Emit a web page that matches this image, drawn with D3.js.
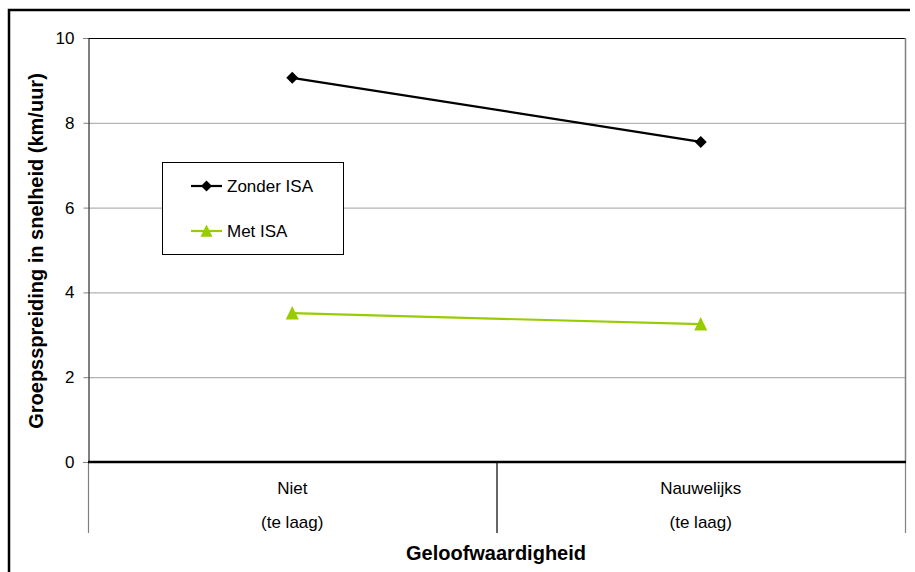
<!DOCTYPE html>
<meta charset="utf-8">
<style>
body { margin: 0; background: #fff; }
svg { font-family: "Liberation Sans", Arial, sans-serif; }
.grid line { stroke: #a0a0a0; stroke-width: 1px; }
</style>
<svg width="915" height="572"></svg>
<script src="https://d3js.org/d3.v7.min.js"></script>
<script>

const categories = ["Niet", "Nauwelijks"];
const subLabels = ["(te laag)", "(te laag)"];
const zonderISA = [9.06, 7.55];
const metISA = [3.51, 3.25];
const yTicks = [0, 2, 4, 6, 8, 10];

// square turned 45 degrees, like the excel marker
var wideDiamond = {
  draw: function(context, size) {
    var r = Math.sqrt(size / 2);
    context.moveTo(0, -r);
    context.lineTo(r, 0);
    context.lineTo(0, r);
    context.lineTo(-r, 0);
    context.closePath();
  }
};
var flatTriangle = {
  draw: function(context, size) {
    var w = Math.sqrt(size) * 0.77;
    context.moveTo(0, -w * 1.1);
    context.lineTo(w, w * 0.95);
    context.lineTo(-w, w * 0.95);
    context.closePath();
  }
};

const series = [
  {name: "Zonder ISA", values: zonderISA, color: "#000000", symbol: wideDiamond},
  {name: "Met ISA", values: metISA, color: "#99cc00", symbol: flatTriangle}
];

const LEFT = 88, RIGHT = 905, TOP = 38, BOTTOM = 462;

var svg = d3.select("svg");

// outer frame
svg.append("path")
  .attr("d", "M9,572V10H910")
  .attr("fill", "none")
  .attr("stroke", "#000")
  .attr("stroke-width", 2.5);

var y = d3.scaleLinear().domain([0, 10]).range([BOTTOM, TOP]);
var x = d3.scaleBand().domain(categories).range([LEFT, RIGHT]);

// gridlines
svg.append("g").attr("class", "grid")
  .selectAll("line")
  .data(yTicks.filter(function(d) { return d > 0 && d < 10; }))
  .enter().append("line")
    .attr("x1", LEFT).attr("x2", RIGHT)
    .attr("y1", function(d) { return y(d) + 0.5; })
    .attr("y2", function(d) { return y(d) + 0.5; });

// plot border top / right
svg.append("line").attr("x1", LEFT).attr("x2", RIGHT).attr("y1", TOP + 0.5).attr("y2", TOP + 0.5)
  .attr("stroke", "#000").attr("stroke-width", 1);
svg.append("line").attr("x1", RIGHT + 0.5).attr("x2", RIGHT + 0.5).attr("y1", TOP).attr("y2", BOTTOM)
  .attr("stroke", "#808080").attr("stroke-width", 1.5);

// y axis
var yAxis = svg.append("g")
  .attr("transform", "translate(" + (LEFT + 0.5) + ",0)")
  .call(d3.axisLeft(y).tickValues(yTicks).tickSize(5).tickPadding(9));
yAxis.select(".domain").attr("stroke", "#000");
yAxis.selectAll(".tick line").attr("stroke", "#808080");
yAxis.selectAll("text")
  .attr("font-size", 17)
  .attr("font-family", "Liberation Sans, Arial, sans-serif")
  .attr("fill", "#000");

// category dividers below zero line
var edges = [LEFT, LEFT + x.bandwidth(), RIGHT];
svg.selectAll("line.divider")
  .data(edges)
  .enter().append("line")
    .attr("class", "divider")
    .attr("x1", function(d) { return d + 0.5; })
    .attr("x2", function(d) { return d + 0.5; })
    .attr("y1", BOTTOM)
    .attr("y2", 533)
    .attr("stroke", function(d, i) { return i == 1 ? "#000" : "#808080"; })
    .attr("stroke-width", 1.2);

// zero line
svg.append("line").attr("x1", LEFT).attr("x2", RIGHT + 1).attr("y1", BOTTOM).attr("y2", BOTTOM)
  .attr("stroke", "#000").attr("stroke-width", 2.5);

// category labels
svg.selectAll("text.cat")
  .data(categories)
  .enter().append("text")
    .attr("class", "cat")
    .attr("x", function(d) { return x(d) + x.bandwidth() / 2; })
    .attr("y", 494)
    .attr("text-anchor", "middle")
    .attr("font-size", 17)
    .text(function(d) { return d; });
svg.selectAll("text.sub")
  .data(subLabels)
  .enter().append("text")
    .attr("class", "sub")
    .attr("x", function(d, i) { return x(categories[i]) + x.bandwidth() / 2; })
    .attr("y", 528)
    .attr("text-anchor", "middle")
    .attr("font-size", 17)
    .text(function(d) { return d; });

// axis titles
svg.append("text")
  .attr("x", 496).attr("y", 560)
  .attr("text-anchor", "middle")
  .attr("font-size", 20).attr("font-weight", "bold")
  .text("Geloofwaardigheid");
svg.append("text")
  .attr("transform", "translate(43," + 251 + ") rotate(-90)")
  .attr("text-anchor", "middle")
  .attr("font-size", 20).attr("font-weight", "bold")
  .text("Groepsspreiding in snelheid (km/uur)");

// lines and markers
var line = d3.line()
  .x(function(d, i) { return x(categories[i]) + x.bandwidth() / 2; })
  .y(function(d) { return y(d); });

series.forEach(function(s) {
  svg.append("path")
    .datum(s.values)
    .attr("d", line)
    .attr("fill", "none")
    .attr("stroke", s.color)
    .attr("stroke-width", 2.2);
  svg.selectAll(null)
    .data(s.values)
    .enter().append("path")
      .attr("d", d3.symbol().type(s.symbol).size(72))
      .attr("transform", function(d, i) {
        return "translate(" + (x(categories[i]) + x.bandwidth() / 2) + "," + y(d) + ")";
      })
      .attr("fill", s.color);
});

// legend
var legend = svg.append("g");
legend.append("rect")
  .attr("x", 162.5).attr("y", 162.5).attr("width", 181).attr("height", 92)
  .attr("fill", "#fff").attr("stroke", "#000").attr("stroke-width", 1);
series.forEach(function(s, i) {
  var ly = 186 + i * 45;
  legend.append("line")
    .attr("x1", 191).attr("x2", 222).attr("y1", ly).attr("y2", ly)
    .attr("stroke", s.color).attr("stroke-width", 2.2);
  legend.append("path")
    .attr("d", d3.symbol().type(s.symbol).size(60))
    .attr("transform", "translate(206.5," + ly + ")")
    .attr("fill", s.color);
  legend.append("text")
    .attr("x", 227).attr("y", ly + 6)
    .attr("font-size", 17)
    .text(s.name);
});
</script>
